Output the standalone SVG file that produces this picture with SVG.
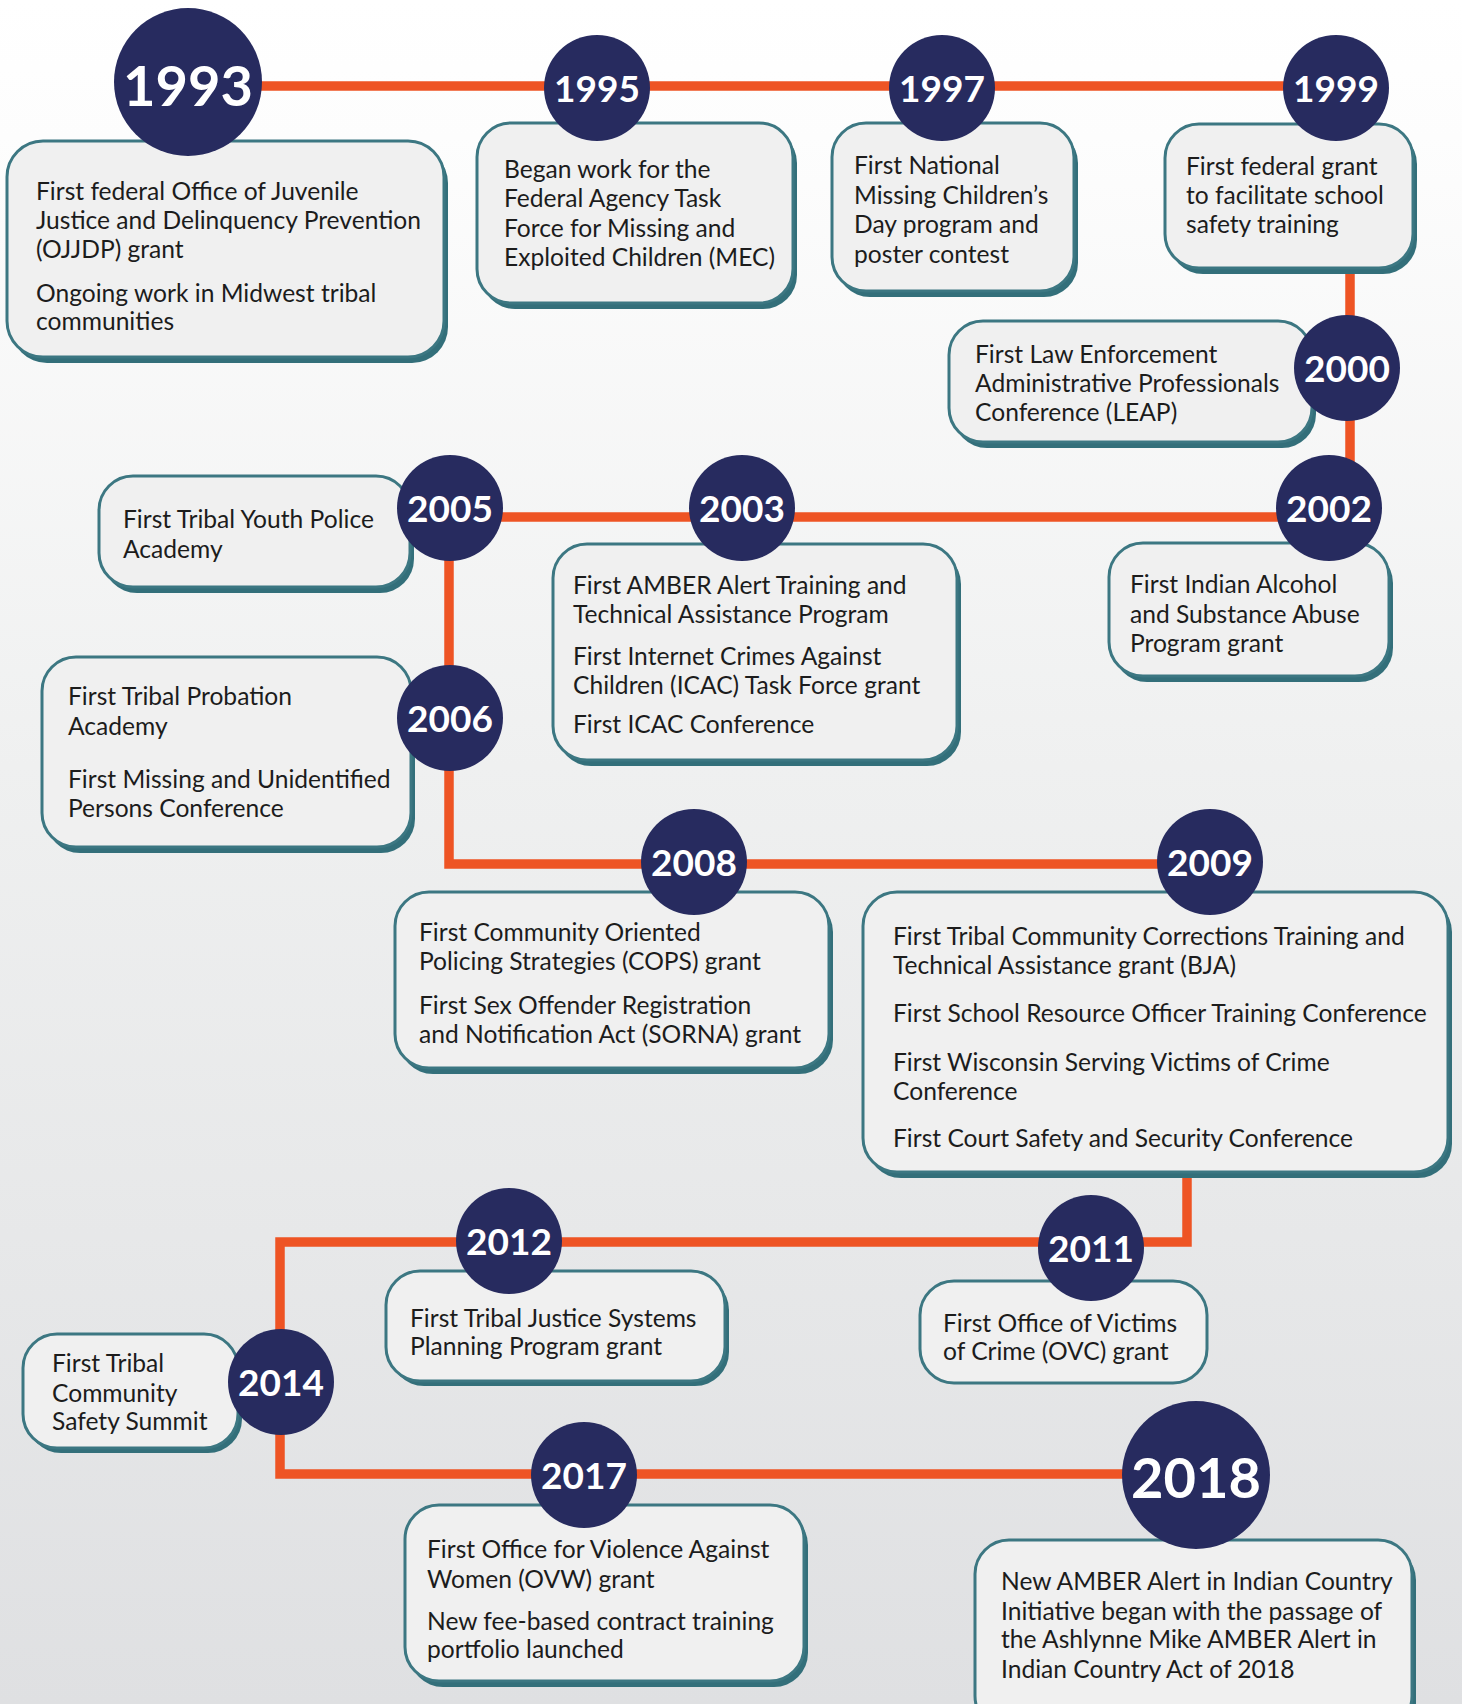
<svg xmlns="http://www.w3.org/2000/svg" width="1462" height="1704" viewBox="0 0 1462 1704">
<defs>
<linearGradient id="bg" x1="0" y1="0" x2="0" y2="1">
<stop offset="0" stop-color="#ffffff"/>
<stop offset="0.08" stop-color="#fdfdfd"/>
<stop offset="0.45" stop-color="#eff0f0"/>
<stop offset="1" stop-color="#dfe0e2"/>
</linearGradient>
<style>
.sh{fill:#336f7a}
.bx{fill:#f0f0f0;stroke:#3c7782;stroke-width:3}
.yr{fill:#272b5f}
.yt{font-family:Lato,"Liberation Sans",sans-serif;font-weight:700;fill:#ffffff;text-anchor:middle}
.s{font-size:37px}
.b{font-size:56px}
.t{font-family:Lato,"Liberation Sans",sans-serif;font-size:24.6px;fill:#1c1c1c}
.ln{fill:none;stroke:#ee5424;stroke-width:9.5;stroke-linejoin:miter}
</style>
</defs>
<rect x="0" y="0" width="1462" height="1704" fill="url(#bg)"/>
<g id="connectors">
<path class="ln" d="M188 86 H1350 V517 H449 V864 H1187 V1242 H280 V1474 H1196"/>
</g>
<g id="n1993">
<rect class="sh" x="11" y="147" width="437" height="216" rx="36"/>
<rect class="bx" x="7" y="141" width="437" height="216" rx="36"/>
<text class="t" x="36" y="200">First federal Office of Juvenile</text>
<text class="t" x="36" y="229">Justice and Delinquency Prevention</text>
<text class="t" x="36" y="258">(OJJDP) grant</text>
<text class="t" x="36" y="302">Ongoing work in Midwest tribal</text>
<text class="t" x="36" y="330">communities</text>
<circle class="yr" cx="188" cy="82" r="74"/>
<text class="yt b" x="188" y="106">1993</text>
</g>
<g id="n1995">
<rect class="sh" x="481" y="129" width="316" height="180" rx="34"/>
<rect class="bx" x="477" y="123" width="316" height="180" rx="34"/>
<text class="t" x="504" y="178">Began work for the</text>
<text class="t" x="504" y="207">Federal Agency Task</text>
<text class="t" x="504" y="237">Force for Missing and</text>
<text class="t" x="504" y="266">Exploited Children (MEC)</text>
<circle class="yr" cx="597" cy="88" r="53"/>
<text class="yt s" x="597" y="102">1995</text>
</g>
<g id="n1997">
<rect class="sh" x="836" y="129" width="242" height="168" rx="34"/>
<rect class="bx" x="832" y="123" width="242" height="168" rx="34"/>
<text class="t" x="854" y="174">First National</text>
<text class="t" x="854" y="204">Missing Children’s</text>
<text class="t" x="854" y="233">Day program and</text>
<text class="t" x="854" y="263">poster contest</text>
<circle class="yr" cx="942" cy="88" r="53"/>
<text class="yt s" x="942" y="102">1997</text>
</g>
<g id="n1999">
<rect class="sh" x="1169" y="130" width="248" height="144" rx="34"/>
<rect class="bx" x="1165" y="124" width="248" height="144" rx="34"/>
<text class="t" x="1186" y="175">First federal grant</text>
<text class="t" x="1186" y="204">to facilitate school</text>
<text class="t" x="1186" y="233">safety training</text>
<circle class="yr" cx="1336" cy="88" r="53"/>
<text class="yt s" x="1336" y="102">1999</text>
</g>
<g id="n2000">
<rect class="sh" x="953" y="327" width="363" height="121" rx="34"/>
<rect class="bx" x="949" y="321" width="363" height="121" rx="34"/>
<text class="t" x="975" y="363">First Law Enforcement</text>
<text class="t" x="975" y="392">Administrative Professionals</text>
<text class="t" x="975" y="421">Conference (LEAP)</text>
<circle class="yr" cx="1347" cy="368" r="53"/>
<text class="yt s" x="1347" y="382">2000</text>
</g>
<g id="n2002">
<rect class="sh" x="1113" y="549" width="280" height="133" rx="34"/>
<rect class="bx" x="1109" y="543" width="280" height="133" rx="34"/>
<text class="t" x="1130" y="593">First Indian Alcohol</text>
<text class="t" x="1130" y="623">and Substance Abuse</text>
<text class="t" x="1130" y="652">Program grant</text>
<circle class="yr" cx="1329" cy="508" r="53"/>
<text class="yt s" x="1329" y="522">2002</text>
</g>
<g id="n2003">
<rect class="sh" x="557" y="550" width="404" height="216" rx="34"/>
<rect class="bx" x="553" y="544" width="404" height="216" rx="34"/>
<text class="t" x="573" y="594">First AMBER Alert Training and</text>
<text class="t" x="573" y="623">Technical Assistance Program</text>
<text class="t" x="573" y="665">First Internet Crimes Against</text>
<text class="t" x="573" y="694">Children (ICAC) Task Force grant</text>
<text class="t" x="573" y="733">First ICAC Conference</text>
<circle class="yr" cx="742" cy="508" r="53"/>
<text class="yt s" x="742" y="522">2003</text>
</g>
<g id="n2005">
<rect class="sh" x="103" y="482" width="311" height="111" rx="34"/>
<rect class="bx" x="99" y="476" width="311" height="111" rx="34"/>
<text class="t" x="123" y="528">First Tribal Youth Police</text>
<text class="t" x="123" y="558">Academy</text>
<circle class="yr" cx="450" cy="508" r="53"/>
<text class="yt s" x="450" y="522">2005</text>
</g>
<g id="n2006">
<rect class="sh" x="46" y="663" width="369" height="190" rx="34"/>
<rect class="bx" x="42" y="657" width="369" height="190" rx="34"/>
<text class="t" x="68" y="705">First Tribal Probation</text>
<text class="t" x="68" y="735">Academy</text>
<text class="t" x="68" y="788">First Missing and Unidentified</text>
<text class="t" x="68" y="817">Persons Conference</text>
<circle class="yr" cx="450" cy="718" r="53"/>
<text class="yt s" x="450" y="732">2006</text>
</g>
<g id="n2008">
<rect class="sh" x="399" y="898" width="434" height="176" rx="34"/>
<rect class="bx" x="395" y="892" width="434" height="176" rx="34"/>
<text class="t" x="419" y="941">First Community Oriented</text>
<text class="t" x="419" y="970">Policing Strategies (COPS) grant</text>
<text class="t" x="419" y="1014">First Sex Offender Registration</text>
<text class="t" x="419" y="1043">and Notification Act (SORNA) grant</text>
<circle class="yr" cx="694" cy="862" r="53"/>
<text class="yt s" x="694" y="876">2008</text>
</g>
<g id="n2009">
<rect class="sh" x="867" y="898" width="585" height="280" rx="34"/>
<rect class="bx" x="863" y="892" width="585" height="280" rx="34"/>
<text class="t" x="893" y="945">First Tribal Community Corrections Training and</text>
<text class="t" x="893" y="974">Technical Assistance grant (BJA)</text>
<text class="t" x="893" y="1022">First School Resource Officer Training Conference</text>
<text class="t" x="893" y="1071">First Wisconsin Serving Victims of Crime</text>
<text class="t" x="893" y="1100">Conference</text>
<text class="t" x="893" y="1147">First Court Safety and Security Conference</text>
<circle class="yr" cx="1210" cy="862" r="53"/>
<text class="yt s" x="1210" y="876">2009</text>
</g>
<g id="n2011">
<rect class="bx" x="920" y="1281" width="287" height="102" rx="34"/>
<text class="t" x="943" y="1332">First Office of Victims</text>
<text class="t" x="943" y="1360">of Crime (OVC) grant</text>
<circle class="yr" cx="1091" cy="1248" r="53"/>
<text class="yt s" x="1091" y="1262">2011</text>
</g>
<g id="n2012">
<rect class="sh" x="390" y="1276" width="339" height="110" rx="34"/>
<rect class="bx" x="386" y="1271" width="339" height="110" rx="34"/>
<text class="t" x="410" y="1327">First Tribal Justice Systems</text>
<text class="t" x="410" y="1355">Planning Program grant</text>
<circle class="yr" cx="509" cy="1241" r="53"/>
<text class="yt s" x="509" y="1255">2012</text>
</g>
<g id="n2014">
<rect class="sh" x="27" y="1339" width="215" height="114" rx="34"/>
<rect class="bx" x="23" y="1334" width="215" height="114" rx="34"/>
<text class="t" x="52" y="1372">First Tribal</text>
<text class="t" x="52" y="1402">Community</text>
<text class="t" x="52" y="1430">Safety Summit</text>
<circle class="yr" cx="281" cy="1382" r="53"/>
<text class="yt s" x="281" y="1396">2014</text>
</g>
<g id="n2017">
<rect class="sh" x="409" y="1511" width="399" height="176" rx="34"/>
<rect class="bx" x="405" y="1505" width="399" height="176" rx="34"/>
<text class="t" x="427" y="1558">First Office for Violence Against</text>
<text class="t" x="427" y="1588">Women (OVW) grant</text>
<text class="t" x="427" y="1630">New fee-based contract training</text>
<text class="t" x="427" y="1658">portfolio launched</text>
<circle class="yr" cx="584" cy="1475" r="53"/>
<text class="yt s" x="584" y="1489">2017</text>
</g>
<g id="n2018">
<rect class="sh" x="979" y="1546" width="437" height="190" rx="34"/>
<rect class="bx" x="975" y="1540" width="437" height="190" rx="34"/>
<text class="t" x="1001" y="1590">New AMBER Alert in Indian Country</text>
<text class="t" x="1001" y="1620">Initiative began with the passage of</text>
<text class="t" x="1001" y="1648">the Ashlynne Mike AMBER Alert in</text>
<text class="t" x="1001" y="1678">Indian Country Act of 2018</text>
<circle class="yr" cx="1196" cy="1475" r="74"/>
<text class="yt b" x="1196" y="1498">2018</text>
</g>
</svg>
